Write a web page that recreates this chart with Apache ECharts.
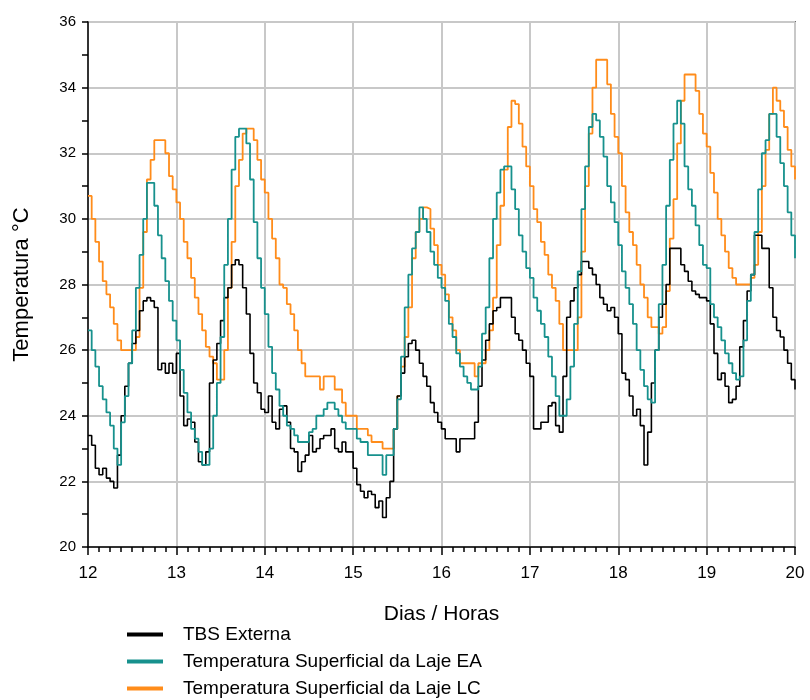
<!DOCTYPE html>
<html>
<head>
<meta charset="utf-8">
<title>Temperatura</title>
<script src="https://cdn.jsdelivr.net/npm/echarts@6/dist/echarts.min.js"></script>
<style>
  html, body { margin: 0; padding: 0; background: #fff; }
  #chart { width: 810px; height: 700px; }
</style>
</head>
<body>
<div id="chart"></div>
<script>
// leituras horarias, dia 12 00h ate dia 20 00h (193 pontos)
const seriesNames = ['TBS Externa', 'Temperatura Superficial da Laje EA', 'Temperatura Superficial da Laje LC'];
const startDay = 12;

const tbsExterna = [
  23.4, 23.1, 22.4, 22.2, 22.4, 22.1, 22.0, 21.8, 22.8, 24.0, 24.9, 25.6, 26.2, 26.6, 27.2, 27.5, 27.6, 27.5, 27.3, 25.4, 25.6, 25.3, 25.6, 25.3,
  25.9, 24.6, 23.7, 23.9, 23.8, 23.2, 22.6, 22.5, 22.9, 25.0, 25.7, 26.2, 26.9, 27.6, 27.9, 28.6, 28.75, 28.6, 27.9, 27.1, 25.9, 25.0, 24.7, 24.2,
  24.1, 24.6, 23.8, 23.6, 24.2, 24.3, 23.8, 23.0, 22.9, 22.3, 22.6, 22.8, 23.4, 22.9, 23.0, 23.3, 23.4, 23.4, 23.6, 23.0, 22.9, 23.2, 22.9, 22.9,
  22.4, 21.9, 21.7, 21.5, 21.7, 21.6, 21.2, 21.4, 20.9, 21.5, 22.0, 23.6, 24.6, 25.3, 25.8, 26.2, 26.3, 26.0, 25.6, 25.2, 24.9, 24.4, 24.1, 23.8,
  23.6, 23.3, 23.3, 23.3, 22.9, 23.3, 23.3, 23.3, 23.3, 23.8, 24.9, 25.7, 26.3, 26.8, 27.2, 27.3, 27.6, 27.6, 27.6, 27.0, 26.5, 26.3, 26.0, 25.6,
  25.2, 23.6, 23.6, 23.8, 23.8, 24.3, 24.4, 23.7, 23.5, 25.2, 27.0, 27.5, 27.9, 28.3, 28.7, 28.7, 28.5, 28.3, 28.0, 27.6, 27.4, 27.2, 27.3, 27.0,
  26.5, 25.3, 25.1, 24.6, 24.0, 24.2, 23.7, 22.5, 23.5, 25.0, 26.0, 27.0, 27.4, 28.0, 29.1, 29.1, 29.1, 28.6, 28.4, 28.1, 27.8, 27.7, 27.6, 27.6,
  27.5, 26.8, 25.9, 25.1, 25.3, 24.9, 24.4, 24.5, 24.9, 26.1, 26.9, 27.8, 28.3, 29.5, 29.5, 29.1, 29.1, 27.9, 27.0, 26.6, 26.4, 26.0, 25.6, 25.1,
  24.8
];

const lajeEA = [
  26.6, 26.0, 25.5, 24.9, 24.5, 24.1, 23.7, 23.0, 22.5, 23.8, 24.6, 25.6, 26.6, 27.9, 28.9, 30.0, 31.1, 31.1, 30.4, 29.5, 28.8, 28.1, 27.5, 26.9,
  26.3, 25.4, 24.7, 24.1, 23.6, 23.3, 22.9, 22.5, 22.5, 23.0, 24.0, 25.0, 26.4, 28.6, 30.0, 31.5, 32.5, 32.75, 32.75, 32.3, 31.2, 29.9, 28.8, 27.9,
  27.1, 26.1, 25.3, 24.8, 24.3, 24.0, 23.7, 23.6, 23.4, 23.2, 23.2, 23.2, 23.5, 23.6, 24.0, 24.0, 24.2, 24.4, 24.4, 24.2, 24.0, 23.8, 23.6, 23.6,
  23.6, 23.3, 23.2, 23.2, 22.8, 22.8, 22.8, 22.8, 22.2, 22.8, 22.8, 23.6, 24.5, 25.8, 27.3, 28.3, 29.1, 29.6, 30.35, 30.0, 29.6, 29.0, 28.6, 28.2,
  27.9, 27.5, 26.8, 26.4, 25.9, 25.5, 25.2, 25.0, 24.8, 24.8, 25.5, 26.5, 27.3, 28.8, 30.0, 30.8, 31.5, 31.6, 31.6, 30.9, 30.3, 29.5, 29.0, 28.5,
  28.2, 27.6, 27.2, 26.8, 26.4, 25.8, 25.2, 24.6, 24.0, 24.0, 24.5, 25.5, 26.8, 28.4, 30.3, 31.6, 32.8, 33.2, 33.0, 32.5, 31.9, 31.0, 30.5, 29.9,
  29.2, 28.4, 27.9, 27.4, 26.8, 26.0, 25.4, 24.9, 24.5, 24.4, 26.0, 27.4, 28.6, 30.4, 31.8, 32.9, 33.6, 32.9, 31.6, 30.9, 30.4, 29.8, 29.2, 28.6,
  28.5, 27.4, 27.0, 26.7, 26.3, 25.9, 25.6, 25.3, 25.1, 25.2, 26.3, 27.5, 28.3, 29.6, 30.9, 32.0, 32.4, 33.2, 33.2, 32.5, 31.7, 31.0, 30.2, 29.5,
  28.8
];

const lajeLC = [
  30.7, 30.0, 29.3, 28.7, 28.1, 27.7, 27.3, 26.8, 26.3, 26.0, 26.0, 26.0, 26.0, 26.4, 27.9, 29.6, 31.2, 31.8, 32.4, 32.4, 32.4, 32.0, 31.3, 30.9,
  30.5, 30.0, 29.3, 28.8, 28.2, 27.6, 27.1, 26.6, 26.1, 25.8, 25.6, 25.1, 25.1, 26.0, 27.9, 29.3, 31.0, 31.8, 32.6, 32.75, 32.75, 32.4, 31.8, 31.2,
  30.8, 30.0, 29.4, 28.8, 28.0, 27.9, 27.4, 27.1, 26.6, 26.0, 25.6, 25.2, 25.2, 25.2, 25.2, 24.8, 25.2, 25.2, 25.2, 24.8, 24.8, 24.4, 24.0, 24.0,
  24.0, 23.6, 23.6, 23.6, 23.4, 23.2, 23.2, 23.2, 23.0, 23.0, 23.0, 23.6, 24.6, 25.5, 26.4, 27.3, 28.8, 29.6, 30.0, 30.35, 30.3, 29.7, 29.2, 28.6,
  28.3, 27.7, 27.0, 26.6, 26.0, 25.6, 25.6, 25.6, 25.6, 25.2, 25.6, 25.6, 26.0, 26.6, 27.6, 29.2, 30.4, 31.5, 32.8, 33.6, 33.5, 32.9, 32.2, 31.6,
  31.0, 30.3, 29.9, 29.3, 28.9, 28.3, 27.9, 27.5, 26.8, 26.0, 26.0, 26.0, 26.0, 27.0, 29.0, 31.0, 32.6, 34.0, 34.85, 34.85, 34.85, 34.1, 33.2, 32.5,
  32.0, 31.0, 30.2, 29.6, 29.2, 28.6, 28.0, 27.6, 27.0, 26.7, 26.7, 26.5, 26.7, 27.8, 29.4, 30.6, 32.3, 33.6, 34.4, 34.4, 34.4, 33.9, 33.2, 32.6,
  32.2, 31.4, 30.8, 30.0, 29.5, 29.0, 28.5, 28.2, 28.0, 28.0, 28.0, 28.0, 28.2, 28.6, 29.6, 31.0, 32.1, 33.2, 34.0, 33.6, 33.3, 32.8, 32.1, 31.6,
  31.2
];

const colors = ['#000000', '#17918d', '#ff8c1a'];

function toPoints(values) {
  // hora i -> dia 12 + i/24
  return values.map((v, i) => [startDay + i / 24, v]);
}

const chart = echarts.init(document.getElementById('chart'), null, { renderer: 'canvas' });

const font = 'Liberation Sans, Arial, sans-serif';

const option = {
  animation: false,
  backgroundColor: '#ffffff',
  grid: {
    left: 88,
    right: 15,
    top: 22,
    bottom: 153,
    show: true,
    borderColor: '#000',
    borderWidth: 1.5,
    backgroundColor: 'transparent'
  },
  legend: {
    orient: 'vertical',
    left: 127,
    top: 625,
    padding: 0,
    itemWidth: 36,
    itemHeight: 4,
    itemGap: 8,
    icon: 'rect',
    textStyle: { color: '#000', fontFamily: font, fontSize: 19, padding: [0, 0, 0, 15] },
    data: seriesNames
  },
  xAxis: {
    type: 'value',
    min: 12,
    max: 20,
    interval: 1,
    name: 'Dias / Horas',
    nameLocation: 'middle',
    nameGap: 57,
    nameTextStyle: { color: '#000', fontFamily: font, fontSize: 21 },
    axisLine: { show: true, lineStyle: { color: '#000', width: 1.5 } },
    axisTick: { show: true, length: 8, lineStyle: { color: '#000', width: 1.5 } },
    minorTick: { show: true, splitNumber: 8, length: 5, lineStyle: { color: '#000', width: 1.5 } },
    axisLabel: { color: '#000', fontFamily: font, fontSize: 17, margin: 18 },
    splitLine: { show: true, lineStyle: { color: '#c8c8c8', width: 2 } }
  },
  yAxis: {
    type: 'value',
    min: 20,
    max: 36,
    interval: 2,
    name: 'Temperatura °C',
    nameLocation: 'middle',
    nameGap: 55,
    nameTextStyle: { color: '#000', fontFamily: font, fontSize: 22 },
    axisLine: { show: true, lineStyle: { color: '#000', width: 1.5 } },
    axisTick: { show: true, length: 6, lineStyle: { color: '#000', width: 1.5 } },
    minorTick: { show: true, splitNumber: 2, length: 6, lineStyle: { color: '#000', width: 1.5 } },
    axisLabel: { color: '#000', fontFamily: font, fontSize: 15, margin: 12 },
    splitLine: { show: true, lineStyle: { color: '#c8c8c8', width: 2 } }
  },
  series: [
    {
      name: seriesNames[0],
      type: 'line',
      step: 'end',
      symbol: 'none',
      data: toPoints(tbsExterna),
      itemStyle: { color: colors[0] },
      lineStyle: { color: colors[0], width: 1.6 },
      z: 3
    },
    {
      name: seriesNames[1],
      type: 'line',
      step: 'end',
      symbol: 'none',
      data: toPoints(lajeEA),
      itemStyle: { color: colors[1] },
      lineStyle: { color: colors[1], width: 1.8 },
      z: 4
    },
    {
      name: seriesNames[2],
      type: 'line',
      step: 'end',
      symbol: 'none',
      data: toPoints(lajeLC),
      itemStyle: { color: colors[2] },
      lineStyle: { color: colors[2], width: 1.8 },
      z: 2
    }
  ]
};

chart.setOption(option);
</script>
</body>
</html>
